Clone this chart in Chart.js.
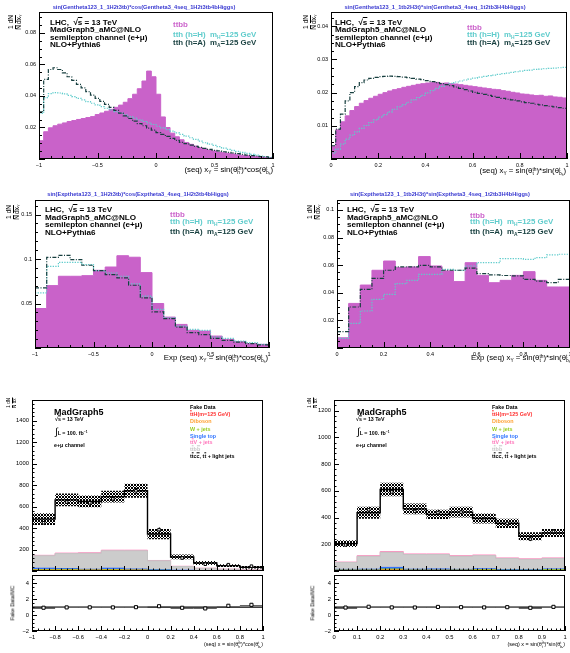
<!DOCTYPE html>
<html><head><meta charset="utf-8">
<script src="https://cdn.jsdelivr.net/npm/chart.js@4.4.1/dist/chart.umd.min.js"></script>
<style>
body{margin:0;width:570px;height:653px;position:relative;background:#fff;overflow:hidden;font-family:"Liberation Sans",Arial,sans-serif}
canvas{position:absolute}
.t{position:absolute;white-space:nowrap;line-height:1;transform:translateY(-50%)}
.r{transform:translate(-100%,-50%)}
.c{transform:translate(-50%,-50%)}
.title{font-size:5.7px;font-weight:bold;color:#3838d0}
.info{font-size:8.1px;font-weight:bold;line-height:7.4px;transform:none}
.lg{font-size:7.9px;font-weight:bold}
.xt{font-size:7.8px}
.ss{display:inline-block;vertical-align:-0.45em;font-size:62%;line-height:0.95;text-align:left}
.ss>span{display:block}
sub{font-size:62%;vertical-align:-0.3em;line-height:0}
sup{font-size:62%;vertical-align:0.5em;line-height:0}
.ov{text-decoration:overline}
.yt{position:absolute;white-space:nowrap;font-size:6.5px;transform:translate(-50%,-50%) rotate(-90deg);line-height:1}
.fr{display:inline-flex;flex-direction:column;align-items:center;vertical-align:middle;margin:0 0.5px}
.fr>span:first-child{border-bottom:0.7px solid #000}
.bi{font-size:5.3px;font-weight:bold}
.bl{font-size:5.4px;font-weight:bold}
.bx{font-size:5.4px}
</style></head><body>
<script>
// ---------------- DATA ----------------
// Top-left: sin(theta_h)*cos(theta_bh), x in [-1,1], 50 bins
const p1Range = [-1, 1];
const p1_ttbb = [0.0116,0.0173,0.0198,0.0211,0.0221,0.0229,0.0238,0.0244,0.0251,0.0257,
 0.0263,0.0269,0.0282,0.0292,0.0303,0.0315,0.0328,0.0342,0.0360,0.0383,
 0.0411,0.0446,0.0495,0.0558,0.0522,0.0411,0.0267,0.0200,0.0164,0.0141,
 0.0122,0.0105,0.0093,0.0082,0.0072,0.0063,0.0057,0.0051,0.0044,0.0040,
 0.0036,0.0032,0.0027,0.0023,0.0021,0.0017,0.0015,0.0013,0.0011,0.0008];
const p1_tthH = [0.0290,0.0390,0.0415,0.0421,0.0419,0.0413,0.0404,0.0396,0.0385,0.0375,
 0.0364,0.0354,0.0343,0.0333,0.0322,0.0312,0.0301,0.0291,0.0280,0.0269,
 0.0259,0.0248,0.0238,0.0229,0.0219,0.0208,0.0198,0.0187,0.0177,0.0166,
 0.0156,0.0145,0.0135,0.0124,0.0114,0.0103,0.0095,0.0086,0.0078,0.0069,
 0.0061,0.0055,0.0048,0.0042,0.0036,0.0029,0.0025,0.0019,0.0015,0.0011];
const p1_tthA = [0.0300,0.0505,0.0568,0.0579,0.0568,0.0547,0.0522,0.0499,0.0474,0.0451,
 0.0427,0.0406,0.0385,0.0366,0.0347,0.0328,0.0309,0.0291,0.0274,0.0257,
 0.0240,0.0225,0.0211,0.0196,0.0183,0.0168,0.0156,0.0143,0.0131,0.0118,
 0.0105,0.0097,0.0088,0.0080,0.0074,0.0067,0.0061,0.0055,0.0051,0.0046,
 0.0042,0.0038,0.0034,0.0029,0.0025,0.0021,0.0019,0.0015,0.0013,0.0008];
// Top-right: sin(theta_t)*sin(theta_bh), x in [0,1], 50 bins
const p2Range = [0, 1];
const p2_ttbb = [0.0038,0.0088,0.0112,0.0130,0.0146,0.0158,0.0168,0.0176,0.0183,0.0189,
 0.0195,0.0200,0.0205,0.0209,0.0212,0.0216,0.0219,0.0222,0.0225,0.0227,
 0.0229,0.0230,0.0231,0.0228,0.0229,0.0227,0.0226,0.0224,0.0222,0.0220,
 0.0218,0.0216,0.0214,0.0212,0.0210,0.0209,0.0206,0.0204,0.0201,0.0199,
 0.0196,0.0195,0.0193,0.0191,0.0192,0.0189,0.0190,0.0187,0.0186,0.0184];
const p2_tthH = [0.0018,0.0030,0.0045,0.0060,0.0072,0.0082,0.0092,0.0101,0.0110,0.0118,
 0.0126,0.0134,0.0142,0.0150,0.0157,0.0164,0.0171,0.0178,0.0185,0.0192,
 0.0199,0.0206,0.0213,0.0219,0.0224,0.0228,0.0232,0.0235,0.0238,0.0241,
 0.0244,0.0247,0.0249,0.0251,0.0253,0.0255,0.0257,0.0259,0.0261,0.0263,
 0.0265,0.0267,0.0268,0.0270,0.0271,0.0272,0.0273,0.0274,0.0275,0.0276];
const p2_tthA = [0.0040,0.0090,0.0135,0.0175,0.0200,0.0218,0.0230,0.0238,0.0243,0.0246,
 0.0248,0.0249,0.0250,0.0249,0.0248,0.0247,0.0245,0.0243,0.0241,0.0239,
 0.0236,0.0233,0.0230,0.0227,0.0224,0.0221,0.0217,0.0213,0.0209,0.0205,
 0.0201,0.0198,0.0195,0.0192,0.0189,0.0186,0.0183,0.0180,0.0178,0.0175,
 0.0172,0.0170,0.0168,0.0165,0.0163,0.0161,0.0159,0.0157,0.0155,0.0153];
// Middle-left: Exp, x in [-1,1], 20 bins
const p3Range = [-1, 1];
const p3_ttbb = [0.0444,0.0701,0.0806,0.0806,0.0813,0.0873,0.0910,0.1037,0.1020,0.0847,
 0.0500,0.0347,0.0265,0.0198,0.0190,0.0134,0.0097,0.0070,0.0049,0.0041];
const p3_tthH = [0.0620,0.0918,0.0963,0.0963,0.0937,0.0870,0.0843,0.0806,0.0720,0.0582,
 0.0433,0.0340,0.0246,0.0209,0.0198,0.0123,0.0108,0.0078,0.0060,0.0041];
const p3_tthA = [0.0675,0.1019,0.1040,0.0993,0.0930,0.0870,0.0825,0.0787,0.0705,0.0563,
 0.0407,0.0330,0.0235,0.0172,0.0150,0.0108,0.0086,0.0067,0.0049,0.0034];
// Middle-right: Exp, x in [0,1], 20 bins
const p4Range = [0, 1];
const p4_ttbb = [0.0074,0.0323,0.0456,0.0563,0.0630,0.0582,0.0587,0.0662,0.0594,0.0558,
 0.0481,0.0618,0.0526,0.0473,0.0490,0.0526,0.0553,0.0490,0.0442,0.0442];
const p4_tthH = [0.0069,0.0178,0.0268,0.0352,0.0389,0.0466,0.0490,0.0534,0.0534,0.0570,
 0.0563,0.0594,0.0618,0.0618,0.0647,0.0647,0.0642,0.0654,0.0674,0.0679];
const p4_tthA = [0.0118,0.0297,0.0425,0.0504,0.0563,0.0587,0.0587,0.0599,0.0587,0.0563,
 0.0563,0.0578,0.0539,0.0529,0.0525,0.0522,0.0497,0.0485,0.0473,0.0497];
// Bottom-left stack, x in [-1,1], 10 bins (events)
const b1Range = [-1, 1];
const b1_ttH      = [5,5,5,5,5,3,2,1,0.5,0.3];
const b1_diboson  = [3,3,3,3,3,2,1,0.5,0.3,0.2];
const b1_wjets    = [6,7,2,6,2,2,1,0.5,0.3,0.2];
const b1_singletop= [12,8,6,12,8,6,3,2,1,0.5];
const b1_ttbb     = [116,139,149,162,170,82,35,21,14,9];
const b1_ttV      = [4,5,5,6,6,3,2,1,1,0.5];
const b1_ttlight  = [337,496,478,499,553,246,87,49,33,24];
const b1_mcErr    = [54,60,55,55,65,48,22,18,12,12];
const b1_data     = [449,643,635,672,747,385,121,63,59,45];
const b1_dataErr  = [21,25,25,26,27,20,11,8,8,7];
// Bottom-right stack, x in [0,1], 10 bins
const b2Range = [0, 1];
const b2_ttH      = [4,4,5,4,4,4,4,3,3,3];
const b2_diboson  = [1,1,2,1,1,1,1,1,1,1];
const b2_wjets    = [2,2,8,2,2,2,5,2,2,6];
const b2_singletop= [5,6,12,6,8,5,6,5,4,5];
const b2_ttbb     = [52,97,113,110,108,98,99,83,77,79];
const b2_ttV      = [3,5,6,5,5,5,5,4,4,4];
const b2_ttlight  = [138,321,464,337,296,326,273,259,169,187];
const b2_mcErr    = [25,45,50,40,35,40,38,35,30,30];
const b2_data     = [195,458,592,446,437,441,381,357,239,296];
const b2_dataErr  = [14,21,24,21,21,21,20,19,15,17];

// ---------------- STYLE ----------------
const FONT = '"Liberation Sans", Arial, sans-serif';
const C = {ttbb:'#c962c9', tthH:'#5fcccc', tthA:'#173f3f'};
const STACK_COLORS = ['#d21fd2','#ff9c2a','#9ccc2a','#2a6cff','#cccccc','#ff8fc0','#ffffff'];
const STACK_BORDERS = ['#ff2020','#ff9c2a','#9ccc2a','#2a6cff','#c4c4c4','#ff8fc0','rgba(0,0,0,0)'];

function hist(vals, r){
  const n = vals.length, w = (r[1]-r[0])/n;
  const pts = vals.map((v,i)=>({x:r[0]+i*w, y:v}));
  pts.push({x:r[1], y:vals[n-1]});
  return pts;
}
function centers(vals, r){
  const n = vals.length, w = (r[1]-r[0])/n;
  return vals.map((v,i)=>({x:r[0]+(i+0.5)*w, y:v}));
}
function fmt(v){ return String(parseFloat(v.toFixed(4))).replace('-', '\u2212'); }

const rootPlugin = {
  id: 'rootAxes',
  beforeDatasetDraw(chart, args){
    const ds = chart.data.datasets[args.index];
    if (!ds.errY) return;
    const {ctx, chartArea:a, scales:{x:xs, y:ys}} = chart;
    ctx.save();
    ctx.lineWidth = 1;
    ds.data.forEach((p,i)=>{
      const px = Math.round(xs.getPixelForValue(p.x))+0.5, py = Math.round(ys.getPixelForValue(p.y))+0.5;
      const y1 = Math.min(ys.getPixelForValue(p.y-ds.errY[i]), a.bottom);
      const y2 = Math.max(ys.getPixelForValue(p.y+ds.errY[i]), a.top);
      if (ds.errX && ds.errX[i] > 0){
        ctx.strokeStyle = '#666';
        ctx.beginPath();
        ctx.moveTo(xs.getPixelForValue(p.x-ds.errX[i]), py);
        ctx.lineTo(xs.getPixelForValue(p.x+ds.errX[i]), py);
        ctx.stroke();
      }
      ctx.strokeStyle = '#000';
      ctx.beginPath();
      ctx.moveTo(px, y1); ctx.lineTo(px, y2);
      ctx.stroke();
    });
    ctx.restore();
  },
  afterDraw(chart, args, o){
    const {ctx, chartArea:a, scales:{x:xs, y:ys}} = chart;
    ctx.save();
    ctx.strokeStyle = '#000'; ctx.lineWidth = 1;
    ctx.strokeRect(a.left+0.5, a.top+0.5, a.right-a.left-1, a.bottom-a.top-1);
    const L = o.len || [6,3];
    ctx.beginPath();
    const doTicks = (sc, major, minor, horiz) => {
      const k0 = Math.ceil(sc.min/minor - 1e-6), k1 = Math.floor(sc.max/minor + 1e-6);
      for (let k=k0; k<=k1; k++){
        const v = k*minor, r = v/major;
        const len = Math.abs(r-Math.round(r)) < 1e-6 ? L[0] : L[1];
        const p = Math.round(sc.getPixelForValue(v)) + 0.5;
        if (horiz){ ctx.moveTo(p, a.bottom); ctx.lineTo(p, a.bottom-len); }
        else { ctx.moveTo(a.left, p); ctx.lineTo(a.left+len, p); }
      }
    };
    doTicks(xs, o.x[0], o.x[1], true);
    doTicks(ys, o.y[0], o.y[1], false);
    ctx.stroke();
    ctx.restore();
  }
};

function stepTicks(min, max, step){
  const t = [];
  for (let k = Math.ceil(min/step - 1e-9); k*step <= max + 1e-9; k++) t.push({value: +(k*step).toFixed(6)});
  return t;
}

function mk(box, area, cfg){
  const cv = document.createElement('canvas');
  cv.width = box[2]; cv.height = box[3];
  Object.assign(cv.style, {left:box[0]+'px', top:box[1]+'px', width:box[2]+'px', height:box[3]+'px'});
  document.body.appendChild(cv);
  const ctx = cv.getContext('2d');
  const padT = area[1]-box[1], padR = box[0]+box[2]-area[2];
  const yW = area[0]-box[0], xH = box[1]+box[3]-area[3];
  const tickFont = {family: FONT, size: cfg.fs || 5.5};
  const cb = (hideZero) => function(v){
    if (hideZero && Math.abs(v) < 1e-9) return '';
    return fmt(v);
  };
  new Chart(cv, {
    type: 'line',
    data: {datasets: cfg.datasets(ctx)},
    options: {
      responsive:false, animation:false, devicePixelRatio:1, events:[],
      layout:{padding:{left:0, top:padT, right:padR, bottom: cfg.xHidden ? xH : 0}},
      plugins:{legend:{display:false}, tooltip:{enabled:false}, rootAxes: cfg.axes},
      elements:{point:{radius:0}, line:{tension:0}},
      scales:{
        x:{type:'linear', display: !cfg.xHidden, min:cfg.x[0], max:cfg.x[1],
           grid:{display:false, drawTicks:false}, border:{display:false},
           ticks:{autoSkip:false, maxRotation:0, minRotation:0, padding:3, color:'#000', font:tickFont, callback: cb(false)},
           afterBuildTicks: s => { s.ticks = stepTicks(cfg.x[0], cfg.x[1], cfg.x[2]); },
           afterFit: s => { s.height = xH; s.paddingLeft = 0; s.paddingRight = 0; }},
        y:{type:'linear', min:cfg.y[0], max:cfg.y[1],
           grid:{display:false, drawTicks:false}, border:{display:false},
           ticks:{autoSkip:false, padding:3, color:'#000', font:tickFont, callback: cb(cfg.yHideZero)},
           afterBuildTicks: s => { s.ticks = stepTicks(cfg.y[0], cfg.y[1], cfg.y[2]); },
           afterFit: s => { s.width = yW; s.paddingTop = 0; s.paddingBottom = 0; }}
      }
    },
    plugins:[rootPlugin]
  });
}

function topSets(ttbb, hH, hA, r){
  return () => [
    {data: hist(hA, r), borderColor:C.tthA, borderWidth:1.2, borderDash:[4,1.5,1,1.5], stepped:true, fill:false, order:0},
    {data: hist(hH, r), borderColor:C.tthH, borderWidth:1.2, borderDash:[1.3,1.3], stepped:true, fill:false, order:1},
    {data: hist(ttbb, r), borderColor:C.ttbb, backgroundColor:C.ttbb, borderWidth:1, stepped:true, fill:'origin', order:2}
  ];
}

function hatch(ctx){
  const c = document.createElement('canvas'); c.width = 3; c.height = 3;
  const g = c.getContext('2d');
  g.strokeStyle = '#000'; g.lineWidth = 1;
  g.beginPath(); g.moveTo(-1,-1); g.lineTo(4,4); g.moveTo(4,-1); g.lineTo(-1,4); g.stroke();
  return ctx.createPattern(c, 'repeat');
}

function stackData(comps){
  const n = comps[0].length, cum = [];
  let run = new Array(n).fill(0);
  comps.forEach(c => { run = run.map((v,i)=>v+c[i]); cum.push(run.slice()); });
  return cum;
}

function stackSets(comps, mcErr, data, dataErr, r){
  return (ctx) => {
    const cum = stackData(comps);
    const total = cum[cum.length-1];
    const sets = [
      {data: centers(data, r), showLine:false, pointStyle:'rect', pointRadius:1.8, pointBorderWidth:1,
       pointBorderColor:'#000', pointBackgroundColor:'#fff', errY: dataErr, errX: null, order:0},
      {data: hist(total, r), borderColor:'#000', borderWidth:1.4, stepped:true, fill:false, order:1},
      {data: hist(total.map((v,i)=>v+mcErr[i]), r), borderWidth:0, borderColor:'rgba(0,0,0,0)', stepped:true,
       fill:3, backgroundColor: hatch(ctx), order:2},
      {data: hist(total.map((v,i)=>v-mcErr[i]), r), borderWidth:0, borderColor:'rgba(0,0,0,0)', stepped:true, fill:false, order:3}
    ];
    cum.forEach((c,k)=>{
      sets.push({data: hist(c, r), borderColor: STACK_BORDERS[k], backgroundColor: STACK_COLORS[k],
        borderWidth:1, stepped:true, fill:'origin', order:4+k});
    });
    return sets;
  };
}

function ratioSets(comps, data, dataErr, r){
  return () => {
    const cum = stackData(comps);
    const total = cum[cum.length-1];
    const hw = (r[1]-r[0])/data.length/2;
    return [
      {data: centers(data.map((d,i)=>d/total[i]), r), showLine:false, pointStyle:'rect', pointRadius:2.2, pointBorderWidth:1,
       pointBorderColor:'#000', pointBackgroundColor:'#fff', errY: dataErr.map((e,i)=>e/total[i]), errX: data.map(()=>hw), order:0},
      {data: [{x:r[0], y:1}, {x:r[1], y:1}], borderColor:'#000', borderWidth:1.4, fill:false, order:1}
    ];
  };
}

// ---------------- CHARTS ----------------
mk([0,0,285,172], [39,12,273,159], {x:[-1,1,0.5], y:[0,0.0933,0.02], yHideZero:true,
   axes:{x:[0.5,0.1], y:[0.02,0.005], len:[6,3]}, datasets: topSets(p1_ttbb, p1_tthH, p1_tthA, p1Range)});
mk([285,0,285,172], [331,12,567,159], {x:[0,1,0.2], y:[0,0.0443,0.01], yHideZero:true,
   axes:{x:[0.2,0.05], y:[0.01,0.0025], len:[6,3]}, datasets: topSets(p2_ttbb, p2_tthH, p2_tthA, p2Range)});
mk([0,188,285,172], [35,200,269,348], {x:[-1,1,0.5], y:[0,0.1663,0.05], yHideZero:true,
   axes:{x:[0.5,0.1], y:[0.05,0.01], len:[6,3]}, datasets: topSets(p3_ttbb, p3_tthH, p3_tthA, p3Range)});
mk([285,188,285,172], [337,200,570,348], {x:[0,1,0.2], y:[0,0.1072,0.02], yHideZero:true,
   axes:{x:[0.2,0.05], y:[0.02,0.005], len:[6,3]}, datasets: topSets(p4_ttbb, p4_tthH, p4_tthA, p4Range)});

const b1Comps = [b1_ttH, b1_diboson, b1_wjets, b1_singletop, b1_ttbb, b1_ttV, b1_ttlight];
const b2Comps = [b2_ttH, b2_diboson, b2_wjets, b2_singletop, b2_ttbb, b2_ttV, b2_ttlight];

mk([0,395,285,181], [32,399,263,575], {x:[-1,1,0.2], y:[0,1593,200], yHideZero:true, xHidden:true, fs:5.8,
   axes:{x:[0.2,0.05], y:[200,40], len:[5,2.5]}, datasets: stackSets(b1Comps, b1_mcErr, b1_data, b1_dataErr, b1Range)});
mk([0,570,285,72], [32,575,263,631], {x:[-1,1,0.2], y:[-2,5.05,2], fs:5.8,
   axes:{x:[0.2,0.05], y:[2,0.5], len:[5,2.5]}, datasets: ratioSets(b1Comps, b1_data, b1_dataErr, b1Range)});
mk([285,395,285,181], [334,399,565,575], {x:[0,1,0.1], y:[0,1280,200], yHideZero:true, xHidden:true, fs:5.8,
   axes:{x:[0.1,0.02], y:[200,40], len:[5,2.5]}, datasets: stackSets(b2Comps, b2_mcErr, b2_data, b2_dataErr, b2Range)});
mk([285,570,285,72], [334,575,565,631], {x:[0,1,0.1], y:[-2,5.05,2], fs:5.8,
   axes:{x:[0.1,0.02], y:[2,0.5], len:[5,2.5]}, datasets: ratioSets(b2Comps, b2_data, b2_dataErr, b2Range)});
</script>

<!-- Panel 1 texts -->
<div class="t title c" style="left:144px;top:8px">sin(Gentheta123_1_1H2t3tb)*cos(Gentheta3_4seq_1H2t3tb4bHiggs)</div>
<div class="yt" style="left:15px;top:22px"><span class="fr"><span>1</span><span>N</span></span><span class="fr"><span>dN</span><span>dx<sub>Y</sub></span></span></div>
<div class="t info" style="left:50px;top:19px">LHC,&nbsp; √<span class="ov">s</span> = 13 TeV<br>MadGraph5_aMC@NLO<br>semilepton channel (e+μ)<br>NLO+Pythia6</div>
<div class="t lg" style="left:173px;top:25px;color:#cc66cc">ttbb</div>
<div class="t lg" style="left:173px;top:35px;color:#5fcccc">tth (h=H)&nbsp; m<sub>H</sub>=125 GeV</div>
<div class="t lg" style="left:173px;top:43px;color:#173f3f">tth (h=A)&nbsp; m<sub>A</sub>=125 GeV</div>
<div class="t xt r" style="left:273px;top:171px">(seq) x<sub>Y</sub> = sin(θ<span class="ss"><span>th</span><span>h</span></span>)*cos(θ<span class="ss"><span>t</span><span>b<sub>h</sub></span></span>)</div>

<!-- Panel 2 texts -->
<div class="t title c" style="left:435px;top:8px">sin(Gentheta123_1_1tb2H3t)*sin(Gentheta3_4seq_1t2tb3H4bHiggs)</div>
<div class="yt" style="left:310px;top:22px"><span class="fr"><span>1</span><span>N</span></span><span class="fr"><span>dN</span><span>dx<sub>Y</sub></span></span></div>
<div class="t info" style="left:335px;top:19px">LHC,&nbsp; √<span class="ov">s</span> = 13 TeV<br>MadGraph5_aMC@NLO<br>semilepton channel (e+μ)<br>NLO+Pythia6</div>
<div class="t lg" style="left:467px;top:28px;color:#cc66cc">ttbb</div>
<div class="t lg" style="left:467px;top:35px;color:#5fcccc">tth (h=H)&nbsp; m<sub>H</sub>=125 GeV</div>
<div class="t lg" style="left:467px;top:43px;color:#173f3f">tth (h=A)&nbsp; m<sub>A</sub>=125 GeV</div>
<div class="t xt r" style="left:566px;top:172px">(seq) x<sub>Y</sub> = sin(θ<span class="ss"><span>th</span><span>t</span></span>)*sin(θ<span class="ss"><span>t</span><span>b<sub>h</sub></span></span>)</div>

<!-- Panel 3 texts -->
<div class="t title c" style="left:138px;top:195px">sin(Exptheta123_1_1H2t3tb)*cos(Exptheta3_4seq_1H2t3tb4bHiggs)</div>
<div class="yt" style="left:13px;top:212px"><span class="fr"><span>1</span><span>N</span></span><span class="fr"><span>dN</span><span>dx<sub>Y</sub></span></span></div>
<div class="t info" style="left:45px;top:206px;line-height:7.6px">LHC,&nbsp; √<span class="ov">s</span> = 13 TeV<br>MadGraph5_aMC@NLO<br>semilepton channel (e+μ)<br>NLO+Pythia6</div>
<div class="t lg" style="left:170px;top:215px;color:#cc66cc">ttbb</div>
<div class="t lg" style="left:170px;top:222px;color:#5fcccc">tth (h=H)&nbsp; m<sub>H</sub>=125 GeV</div>
<div class="t lg" style="left:170px;top:231.5px;color:#173f3f">tth (h=A)&nbsp; m<sub>A</sub>=125 GeV</div>
<div class="t xt r" style="left:268px;top:359px">Exp (seq) x<sub>Y</sub> = sin(θ<span class="ss"><span>th</span><span>h</span></span>)*cos(θ<span class="ss"><span>t</span><span>b<sub>h</sub></span></span>)</div>

<!-- Panel 4 texts -->
<div class="t title c" style="left:440px;top:195px">sin(Exptheta123_1_1tb2H3t)*sin(Exptheta3_4seq_1t2tb3H4bHiggs)</div>
<div class="yt" style="left:314px;top:212px"><span class="fr"><span>1</span><span>N</span></span><span class="fr"><span>dN</span><span>dx<sub>Y</sub></span></span></div>
<div class="t info" style="left:347px;top:206px;line-height:7.6px">LHC,&nbsp; √<span class="ov">s</span> = 13 TeV<br>MadGraph5_aMC@NLO<br>semilepton channel (e+μ)<br>NLO+Pythia6</div>
<div class="t lg" style="left:470px;top:216px;color:#cc66cc">ttbb</div>
<div class="t lg" style="left:470px;top:222px;color:#5fcccc">tth (h=H)&nbsp; m<sub>H</sub>=125 GeV</div>
<div class="t lg" style="left:470px;top:231.5px;color:#173f3f">tth (h=A)&nbsp; m<sub>A</sub>=125 GeV</div>
<div class="t xt r" style="left:573px;top:359px">Exp (seq) x<sub>Y</sub> = sin(θ<span class="ss"><span>th</span><span>t</span></span>)*sin(θ<span class="ss"><span>t</span><span>b<sub>h</sub></span></span>)</div>

<!-- Bottom-left texts -->
<div class="yt" style="left:12px;top:403px;font-size:4.5px"><span class="fr"><span>1</span><span>N</span></span><span class="fr"><span>dN</span><span>dx</span></span></div>
<div class="t" style="left:54px;top:411.5px;font-size:9px;font-weight:bold">MadGraph5</div>
<div class="t bi" style="left:55px;top:420px">√<span class="ov">s</span> = 13 TeV</div>
<div class="t bi" style="left:55px;top:432px"><span style="font-size:10px;font-weight:normal">∫</span>L = 100. fb<sup>−1</sup></div>
<div class="t bi" style="left:54px;top:446px">e+μ channel</div>
<div class="t bl" style="left:190px;top:407.5px">Fake Data</div>
<div class="t bl" style="left:190px;top:415px;color:#ff3030"><span class="ov">t</span>tH(m=125 GeV)</div>
<div class="t bl" style="left:190px;top:422.3px;color:#ffa030">Diboson</div>
<div class="t bl" style="left:190px;top:429.7px;color:#99cc22">W + jets</div>
<div class="t bl" style="left:190px;top:436.5px;color:#3377ff">Single top</div>
<div class="t bl" style="left:190px;top:443.3px;color:#ff77bb">t<span class="ov">t</span>V + jets</div>
<div class="t bl" style="left:190px;top:450px;color:#c8c8c8">t<span class="ov">t</span>b<span class="ov">b</span></div>
<div class="t bl" style="left:190px;top:457.3px">t<span class="ov">t</span>c<span class="ov">c</span>, t<span class="ov">t</span> + light jets</div>
<div class="yt" style="left:13px;top:603px;font-size:5.4px">Fake Data/MC</div>
<div class="t bx r" style="left:263px;top:645px">(seq) x = sin(θ<span class="ss"><span>t̂h</span><span>h</span></span>)*cos(θ<span class="ss"><span>t</span><span>b<sub>h</sub></span></span>)</div>

<!-- Bottom-right texts -->
<div class="yt" style="left:313px;top:403px;font-size:4.5px"><span class="fr"><span>1</span><span>N</span></span><span class="fr"><span>dN</span><span>dx</span></span></div>
<div class="t" style="left:357px;top:412px;font-size:9px;font-weight:bold">MadGraph5</div>
<div class="t bi" style="left:356px;top:420px">√<span class="ov">s</span> = 13 TeV</div>
<div class="t bi" style="left:357px;top:432px"><span style="font-size:10px;font-weight:normal">∫</span>L = 100. fb<sup>−1</sup></div>
<div class="t bi" style="left:356px;top:446px">e+μ channel</div>
<div class="t bl" style="left:492px;top:407.5px">Fake Data</div>
<div class="t bl" style="left:492px;top:415px;color:#ff3030"><span class="ov">t</span>tH(m=125 GeV)</div>
<div class="t bl" style="left:492px;top:422.3px;color:#ffa030">Diboson</div>
<div class="t bl" style="left:492px;top:429.7px;color:#99cc22">W + jets</div>
<div class="t bl" style="left:492px;top:436.5px;color:#3377ff">Single top</div>
<div class="t bl" style="left:492px;top:443.3px;color:#ff77bb">t<span class="ov">t</span>V + jets</div>
<div class="t bl" style="left:492px;top:450px;color:#c8c8c8">t<span class="ov">t</span>b<span class="ov">b</span></div>
<div class="t bl" style="left:492px;top:457.3px">t<span class="ov">t</span>c<span class="ov">c</span>, t<span class="ov">t</span> + light jets</div>
<div class="yt" style="left:313px;top:603px;font-size:5.4px">Fake Data/MC</div>
<div class="t bx r" style="left:565px;top:645px">(seq) x = sin(θ<span class="ss"><span>t̂h</span><span>t</span></span>)*sin(θ<span class="ss"><span>t</span><span>b<sub>h</sub></span></span>)</div>
</body></html>
